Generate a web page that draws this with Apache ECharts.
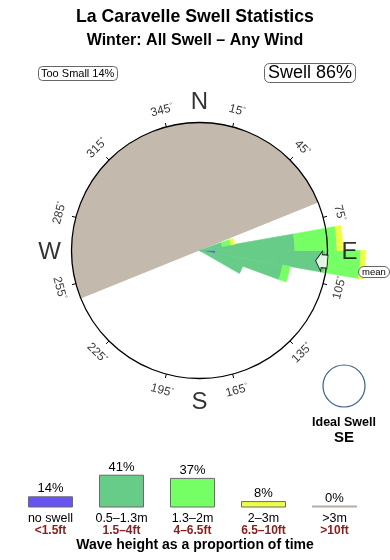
<!DOCTYPE html>
<html><head><meta charset="utf-8">
<script src="https://cdn.jsdelivr.net/npm/echarts@6/dist/echarts.min.js"></script>
<style>html,body{margin:0;padding:0;background:#fff}#c{width:390px;height:560px}</style>
</head><body><div id="c"></div>
<script>
const FONT = '"Liberation Sans", Arial, Helvetica, sans-serif';

// 10-degree direction sectors that carry swell (start bearing of each sector)
const binStarts = [70, 80, 90, 100, 110];
// radial length of each height class in each sector (circle radius = 100)
const noSwellLen = [0, 0, 12.5, 0, 0];
const smallLen   = [18, 74.5, 86, 66, 36];
const mediumLen  = [7, 33, 27.5, 6, 0];
const largeLen   = [3, 4.7, 4, 0, 0];
const hugeLen    = [0, 0, 0, 0, 0];

const landSector = [248, 68];   // shaded sector, clockwise from -> to (bearing)
const meanDirection = 95;
const idealSwell = 'SE';
const tooSmallPct = 14;
const swellPct = 86;

const classPct = [14, 41, 37, 8, 0];
const classMetres = ['no swell', '0.5\u20131.3m', '1.3\u20132m', '2\u20133m', '>3m'];
const classFeet = ['<1.5ft', '1.5\u20134ft', '4\u20136.5ft', '6.5\u201310ft', '>10ft'];
const classColors = ['#6655ee', '#66cc88', '#77ff66', '#eeff44', '#b9aca4'];

const degreeTicks = [15, 45, 75, 105, 135, 165, 195, 225, 255, 285, 315, 345];
const cardinals = ['N', 'E', 'S', 'W'];
const cardinalBearings = [0, 90, 180, 270];

// ---------- build library tables ----------
const sectorCats = [];
for (let i = 0; i < 36; i++) sectorCats.push(String(i * 10));
function sectorData(vals) {
  const d = new Array(36).fill('-');
  binStarts.forEach((b, i) => { d[b / 10] = vals[i] > 0 ? vals[i] : 0; });
  return d;
}
const CENTER = [199.5, 250.5];
const CIRCLE_R = 128;

function labelRot(b) {
  let c = b;
  if (b > 90 && b < 270) c = b - 180;
  else if (b >= 270) c = b - 360;
  return -c;
}

const landSpan = ((landSector[1] - landSector[0]) % 360 + 360) % 360;
const pieStart = ((90 - landSector[0]) % 360 + 360) % 360;

const wedgeSeries = [noSwellLen, smallLen, mediumLen, largeLen, hugeLen].map((vals, k) => ({
  type: 'bar', coordinateSystem: 'polar', polarIndex: 1, stack: 'w',
  data: sectorData(vals).map(v => (v === 0 ? { value: 0, itemStyle: { borderWidth: 0, opacity: 0 } } : v)),
  barCategoryGap: '0%', barWidth: '100%', silent: true,
  itemStyle: { color: classColors[k], borderColor: classColors[k], borderWidth: 0.6 }, z: 3
}));

const option = {
  animation: false,
  backgroundColor: '#fff',
  textStyle: { fontFamily: FONT },
  title: [
    { text: 'La Caravelle Swell Statistics', left: 'center', top: 8, padding: 0,
      textStyle: { fontSize: 17.7, fontWeight: 'bold', color: '#000', fontFamily: FONT } },
    { text: 'Winter: All Swell \u2013 Any Wind', left: 'center', top: 33, padding: 0,
      textStyle: { fontSize: 16, fontWeight: 'bold', color: '#000', fontFamily: FONT } },
    { text: 'Wave height as a proportion of time', left: 'center', top: 538, padding: 0,
      textStyle: { fontSize: 14, fontWeight: 'bold', color: '#000', fontFamily: FONT } },
    { text: 'Too Small ' + tooSmallPct + '%', left: 38, top: 66, padding: [2, 3],
      borderColor: '#666', borderWidth: 1, borderRadius: 4,
      textStyle: { fontSize: 11, fontWeight: 'normal', color: '#000', fontFamily: FONT } },
    { text: 'Swell ' + swellPct + '%', left: 264, top: 63, padding: [1, 4],
      borderColor: '#666', borderWidth: 1, borderRadius: 5,
      textStyle: { fontSize: 18, fontWeight: 'normal', color: '#000', fontFamily: FONT } },
    { text: 'mean', left: 358, top: 266, padding: [1, 4], backgroundColor: '#fff',
      borderColor: '#666', borderWidth: 1, borderRadius: 6, z: 30,
      textStyle: { fontSize: 9.5, fontWeight: 'normal', color: '#000', fontFamily: FONT } }
  ],
  polar: [
    { center: CENTER, radius: CIRCLE_R },
    { center: CENTER, radius: 192 },
    { center: CENTER, radius: 160 }
  ],
  angleAxis: [
    { polarIndex: 0, type: 'value', min: 0, max: 360, interval: 30, startAngle: 75, clockwise: true, z: 10,
      axisLine: { show: true, lineStyle: { color: '#000', width: 1.3 } },
      axisTick: { show: true, length: 4, lineStyle: { color: '#000', width: 1 } },
      axisLabel: { show: false }, splitLine: { show: false } },
    { polarIndex: 1, type: 'category', data: sectorCats, startAngle: 90, clockwise: true, show: false },
    { polarIndex: 2, type: 'value', min: 0, max: 360, startAngle: 90, clockwise: true, show: false }
  ],
  radiusAxis: [
    { polarIndex: 0, type: 'value', min: 0, max: 1, show: false },
    { polarIndex: 1, type: 'value', min: 0, max: 150, show: false },
    { polarIndex: 2, type: 'value', min: 0, max: 160, show: false }
  ],
  grid: { left: 15, right: 20, top: 467.5, height: 40 },
  xAxis: {
    type: 'category', data: classMetres,
    axisLine: { show: false }, axisTick: { show: false },
    axisLabel: {
      margin: 5, interval: 0,
      formatter: (v, i) => '{m|' + v + '}\n{f|' + classFeet[i] + '}',
      rich: {
        m: { fontSize: 12.5, color: '#000', lineHeight: 12, fontFamily: FONT },
        f: { fontSize: 12, fontWeight: 'bold', color: '#8b1c1c', lineHeight: 12, fontFamily: FONT }
      }
    }
  },
  yAxis: { type: 'value', min: 0, max: 50, show: false },
  graphic: [
    { type: 'circle', shape: { cx: 344, cy: 386, r: 21 },
      style: { fill: 'none', stroke: '#3d5f88', lineWidth: 1.2 } },
    { type: 'text', x: 344, y: 423,
      style: { text: 'Ideal Swell', align: 'center', verticalAlign: 'middle', textAlign: 'center', textVerticalAlign: 'middle',
        font: 'bold 12.5px ' + FONT, fill: '#000' } },
    { type: 'text', x: 344, y: 438,
      style: { text: idealSwell, align: 'center', verticalAlign: 'middle', textAlign: 'center', textVerticalAlign: 'middle',
        font: 'bold 15px ' + FONT, fill: '#000' } }
  ],
  series: [
    { type: 'pie', center: CENTER, radius: CIRCLE_R, startAngle: pieStart, clockwise: true,
      silent: true, label: { show: false }, labelLine: { show: false }, z: 1,
      emphasis: { disabled: true },
      data: [
        { value: landSpan, itemStyle: { color: '#c4b9ad' } },
        { value: 360 - landSpan, itemStyle: { color: 'rgba(0,0,0,0)' } }
      ] },
    ...wedgeSeries,
    { type: 'scatter', coordinateSystem: 'polar', polarIndex: 2, symbolSize: 0, silent: true, clip: false, z: 12,
      data: degreeTicks.map(b => ({ value: [145, b], label: { rotate: labelRot(b) } })),
      label: { show: true, position: 'inside',
        formatter: p => '{n|' + p.value[1] + '}{d|\u00b0}',
        rich: { n: { fontSize: 12, color: '#000', fontFamily: FONT },
                d: { fontSize: 7, color: '#000', verticalAlign: 'top', fontFamily: FONT } } } },
    { type: 'scatter', coordinateSystem: 'polar', polarIndex: 2, symbolSize: 0, silent: true, clip: false, z: 12,
      data: cardinals.map((c, i) => ({ name: c, value: [150, cardinalBearings[i]] })),
      label: { show: true, position: 'inside', formatter: p => p.name, offset: [0, 1.5],
        fontSize: 24, color: '#000', fontFamily: FONT } },
    { type: 'scatter', coordinateSystem: 'polar', polarIndex: 2, silent: true, clip: false, z: 20,
      symbol: 'path://M0,10 L6,0 L6,3.5 L12,3.5 L12,16.5 L6,16.5 L6,20 Z',
      symbolSize: [12, 20], symbolRotate: 90 - meanDirection, symbolKeepAspect: false,
      itemStyle: { color: '#fff', borderColor: '#000', borderWidth: 1 },
      data: [[122.5, meanDirection]] },
    { type: 'bar', xAxisIndex: 0, yAxisIndex: 0, barWidth: 45, barMinHeight: 2, silent: true,
      data: classPct.map((v, i) => ({ value: v,
        itemStyle: { color: classColors[i], borderColor: v > 0 ? '#6b6b6b' : classColors[i], borderWidth: v > 0 ? 1 : 0 } })),
      label: { show: true, position: 'top', distance: 1, formatter: '{c}%',
        fontSize: 13, color: '#000', fontFamily: FONT } }
  ]
};
const chart = echarts.init(document.getElementById('c'), null, { renderer: 'canvas' });
chart.setOption(option);
</script>
</body></html>
